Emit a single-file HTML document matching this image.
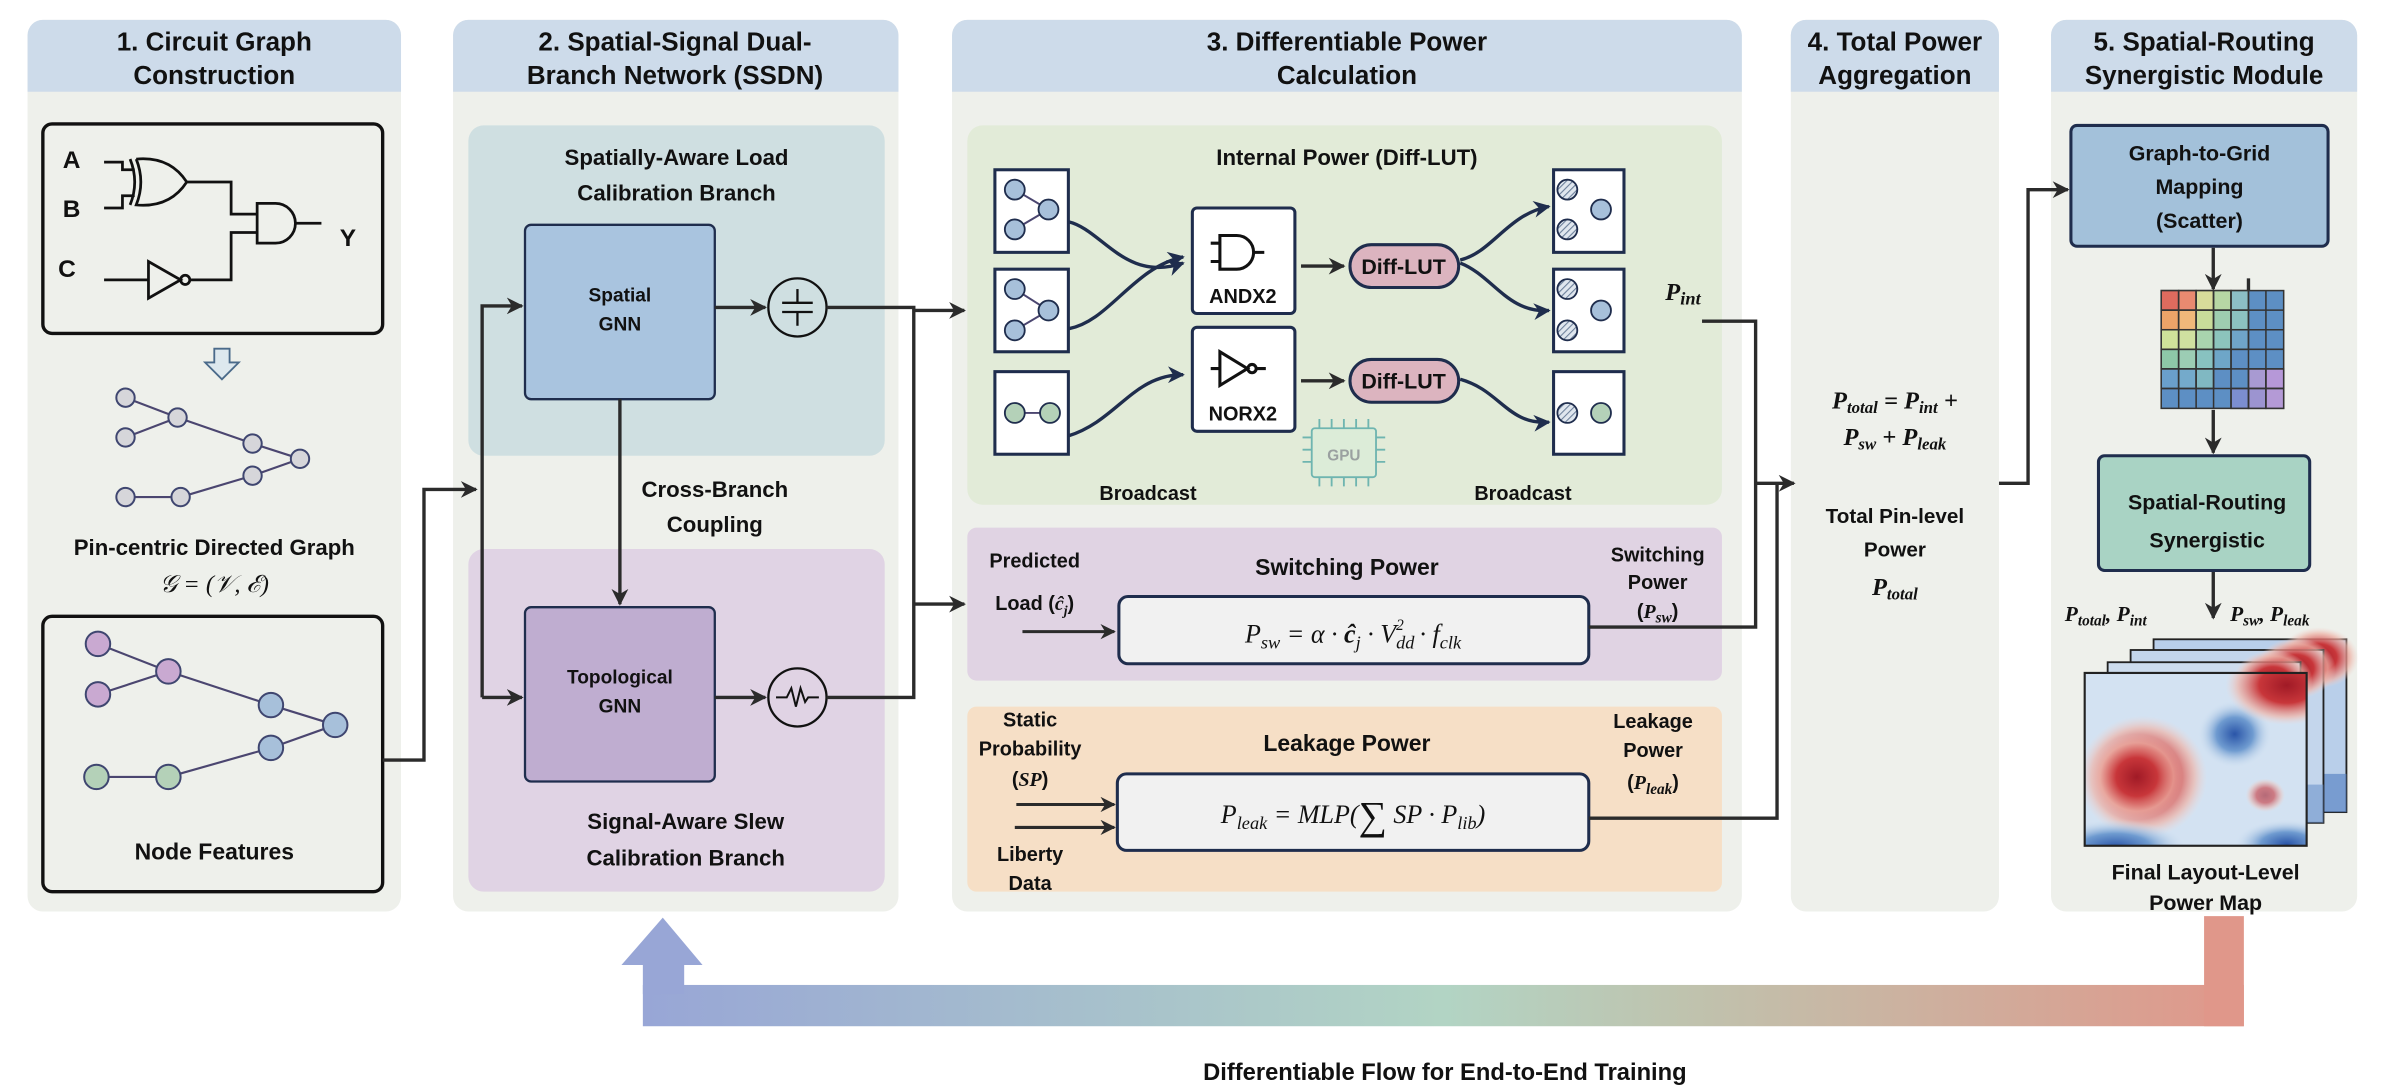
<!DOCTYPE html>
<html><head><meta charset="utf-8"><style>
html,body{margin:0;padding:0;background:#fff;}
svg{display:block;}
text{font-family:"Liberation Sans",sans-serif;font-weight:bold;fill:#111;}
.m{font-family:"Liberation Serif",serif;font-style:italic;font-weight:normal;}
.mb{font-family:"Liberation Serif",serif;font-style:italic;font-weight:bold;}
</style></head><body>
<svg width="2400" height="1092" viewBox="0 0 1568 714" preserveAspectRatio="none" xmlns="http://www.w3.org/2000/svg">
<defs>
<marker id="ar" viewBox="0 0 10 10" refX="9" refY="5" markerWidth="5" markerHeight="5" orient="auto"><path d="M0,0 L10,5 L0,10 L3,5 z" fill="#2b2b2b"/></marker>
<marker id="an" viewBox="0 0 10 10" refX="9" refY="5" markerWidth="5" markerHeight="5" orient="auto"><path d="M0,0 L10,5 L0,10 L3,5 z" fill="#1f2d4d"/></marker>
<linearGradient id="flow" x1="0" x2="1" y1="0" y2="0">
<stop offset="0" stop-color="#98a6d6"/><stop offset="0.5" stop-color="#b2d4c4"/><stop offset="0.65" stop-color="#bfc3ae"/><stop offset="1" stop-color="#e0978a"/></linearGradient>
<radialGradient id="hr" cx="0.5" cy="0.5" r="0.5"><stop offset="0" stop-color="#a01a26"/><stop offset="0.45" stop-color="#c8363a"/><stop offset="0.8" stop-color="#eeb4a8" stop-opacity="0.7"/><stop offset="1" stop-color="#f2d6d0" stop-opacity="0"/></radialGradient>
<radialGradient id="hb" cx="0.5" cy="0.5" r="0.5"><stop offset="0" stop-color="#2a55a8"/><stop offset="0.5" stop-color="#6f9bd0"/><stop offset="1" stop-color="#cfe0f0" stop-opacity="0"/></radialGradient>
<pattern id="hatch" width="3" height="3" patternUnits="userSpaceOnUse" patternTransform="rotate(45)"><rect width="3" height="3" fill="#dfe6ee"/><line x1="0" y1="0" x2="0" y2="3" stroke="#6b7f99" stroke-width="1.4"/></pattern>
</defs>

<!-- Panels -->
<g>
<rect x="18" y="13" width="244" height="583" rx="10" fill="#eef0eb"/>
<path d="M18,60 V23 a10,10 0 0 1 10,-10 H252 a10,10 0 0 1 10,10 V60 z" fill="#cddbea"/>
<rect x="296" y="13" width="291" height="583" rx="10" fill="#eef0eb"/>
<path d="M296,60 V23 a10,10 0 0 1 10,-10 H577 a10,10 0 0 1 10,10 V60 z" fill="#cddbea"/>
<rect x="622" y="13" width="516" height="583" rx="10" fill="#eef0eb"/>
<path d="M622,60 V23 a10,10 0 0 1 10,-10 H1128 a10,10 0 0 1 10,10 V60 z" fill="#cddbea"/>
<rect x="1170" y="13" width="136" height="583" rx="10" fill="#eef0eb"/>
<path d="M1170,60 V23 a10,10 0 0 1 10,-10 H1296 a10,10 0 0 1 10,10 V60 z" fill="#cddbea"/>
<rect x="1340" y="13" width="200" height="583" rx="10" fill="#eef0eb"/>
<path d="M1340,60 V23 a10,10 0 0 1 10,-10 H1530 a10,10 0 0 1 10,10 V60 z" fill="#cddbea"/>
</g>
<g font-size="17" text-anchor="middle">
<text x="140" y="33">1. Circuit Graph</text><text x="140" y="55">Construction</text>
<text x="441" y="33">2. Spatial-Signal Dual-</text><text x="441" y="55">Branch Network (SSDN)</text>
<text x="880" y="33">3. Differentiable Power</text><text x="880" y="55">Calculation</text>
<text x="1238" y="33">4. Total Power</text><text x="1238" y="55">Aggregation</text>
<text x="1440" y="33">5. Spatial-Routing</text><text x="1440" y="55">Synergistic Module</text>
</g>

<!-- Panel 1 -->
<rect x="28" y="81" width="222" height="137" rx="6" fill="#eef0eb" stroke="#111" stroke-width="2.2"/>
<g font-size="16"><text x="41" y="110">A</text><text x="41" y="142">B</text><text x="38" y="181">C</text></g>
<g stroke="#111" stroke-width="1.8" fill="none">
<path d="M68,106 H80 V111 H88"/><path d="M68,136 H80 V128 H88"/>
<path d="M85,104 q6,15 0,30"/><path d="M89,104 q6,15 0,30 q22,2 33,-15 q-11,-17 -33,-15"/>
<path d="M122,119 H151 V140 H168"/>
<path d="M168,133 V159 H180 a13,13 0 0 0 0,-26 z"/><path d="M193,146 H210"/>
<path d="M68,183 H97"/><path d="M97,171 V195 L118,183 z"/><circle cx="121" cy="183" r="3"/>
<path d="M124,183 H151 V152 H168"/>
</g>
<text x="222" y="161" font-size="16">Y</text>
<path d="M140,228 h10 v9 h6 l-11,11 l-11,-11 h6 z" fill="#dde8ee" stroke="#4a6a8a" stroke-width="1.2"/>
<g stroke="#4b4670" stroke-width="1.4"><line x1="82" y1="260" x2="116" y2="273"/><line x1="82" y1="286" x2="116" y2="273"/><line x1="116" y1="273" x2="165" y2="290"/><line x1="165" y1="290" x2="196" y2="300"/><line x1="165" y1="311" x2="196" y2="300"/><line x1="82" y1="325" x2="118" y2="325"/><line x1="118" y1="325" x2="165" y2="311"/></g>
<g fill="#d6d6da" stroke="#3f4670" stroke-width="1.3"><circle cx="82" cy="260" r="6"/><circle cx="82" cy="286" r="6"/><circle cx="116" cy="273" r="6"/><circle cx="165" cy="290" r="6"/><circle cx="196" cy="300" r="6"/><circle cx="165" cy="311" r="6"/><circle cx="82" cy="325" r="6"/><circle cx="118" cy="325" r="6"/></g>
<text x="140" y="363" font-size="14.5" text-anchor="middle">Pin-centric Directed Graph</text>
<text x="140" y="387" font-size="16" text-anchor="middle" class="m">𝒢 = (𝒱, ℰ)</text>
<rect x="28" y="403" width="222" height="180" rx="6" fill="#eef0eb" stroke="#111" stroke-width="2.2"/>
<g stroke="#4b4670" stroke-width="1.4"><line x1="64" y1="421" x2="110" y2="439"/><line x1="64" y1="454" x2="110" y2="439"/><line x1="110" y1="439" x2="177" y2="461"/><line x1="177" y1="461" x2="219" y2="474"/><line x1="177" y1="489" x2="219" y2="474"/><line x1="63" y1="508" x2="110" y2="508"/><line x1="110" y1="508" x2="177" y2="489"/></g>
<g stroke="#3f4670" stroke-width="1.3"><circle cx="64" cy="421" r="8" fill="#c9a9d1"/><circle cx="64" cy="454" r="8" fill="#c9a9d1"/><circle cx="110" cy="439" r="8" fill="#c9a9d1"/><circle cx="177" cy="461" r="8" fill="#a7c0da"/><circle cx="219" cy="474" r="8" fill="#a7c0da"/><circle cx="177" cy="489" r="8" fill="#a7c0da"/><circle cx="63" cy="508" r="8" fill="#b4d1b8"/><circle cx="110" cy="508" r="8" fill="#b4d1b8"/></g>
<text x="140" y="562" font-size="15" text-anchor="middle">Node Features</text>

<!-- Panel 2 -->
<rect x="306" y="82" width="272" height="216" rx="10" fill="#cfdfe1"/>
<rect x="306" y="359" width="272" height="224" rx="10" fill="#e0d3e4"/>
<g font-size="14.5" text-anchor="middle"><text x="442" y="108">Spatially-Aware Load</text><text x="442" y="131">Calibration Branch</text>
<text x="448" y="542">Signal-Aware Slew</text><text x="448" y="566">Calibration Branch</text>
<text x="467" y="325">Cross-Branch</text><text x="467" y="348">Coupling</text></g>
<rect x="343" y="147" width="124" height="114" rx="4" fill="#a9c4df" stroke="#1f2d4d" stroke-width="1.5"/>
<rect x="343" y="397" width="124" height="114" rx="4" fill="#bfadd0" stroke="#1f2d4d" stroke-width="1.5"/>
<g font-size="12.5" text-anchor="middle"><text x="405" y="197">Spatial</text><text x="405" y="216">GNN</text><text x="405" y="447">Topological</text><text x="405" y="466">GNN</text></g>
<circle cx="521" cy="201" r="19" fill="none" stroke="#111" stroke-width="1.5"/>
<g stroke="#111" stroke-width="1.5"><line x1="511" y1="198" x2="531" y2="198"/><line x1="511" y1="204" x2="531" y2="204"/><line x1="521" y1="189" x2="521" y2="198"/><line x1="521" y1="204" x2="521" y2="213"/></g>
<circle cx="521" cy="456" r="19" fill="none" stroke="#111" stroke-width="1.5"/>
<path d="M507,456 h7 l3,-6 l3,12 l3,-12 l3,9 l2,-3 h7" fill="none" stroke="#111" stroke-width="1.3"/>
<g stroke="#2b2b2b" stroke-width="2.2" fill="none">
<path d="M250,497 H277 V320 H311" marker-end="url(#ar)"/>
<path d="M315,456 V200 H341" marker-end="url(#ar)"/>
<path d="M315,456 H341" marker-end="url(#ar)"/>
<path d="M405,261 V395" marker-end="url(#ar)"/>
<path d="M467,201 H500" marker-end="url(#ar)"/>
<path d="M467,456 H500" marker-end="url(#ar)"/>
<path d="M540,201 H597 V456 H540"/>
<path d="M597,203 H630" marker-end="url(#ar)"/>
<path d="M597,395 H630" marker-end="url(#ar)"/>
</g>

<!-- Panel 3: internal -->
<rect x="632" y="82" width="493" height="248" rx="10" fill="#e2ebd8"/>
<text x="880" y="108" font-size="14.5" text-anchor="middle">Internal Power (Diff-LUT)</text>
<rect x="650" y="111" width="48" height="54" fill="#fff" stroke="#1f2d4d" stroke-width="2"/>
<rect x="650" y="176" width="48" height="54" fill="#fff" stroke="#1f2d4d" stroke-width="2"/>
<rect x="650" y="243" width="48" height="54" fill="#fff" stroke="#1f2d4d" stroke-width="2"/>
<g stroke="#4b4670" stroke-width="1.3">
<line x1="663" y1="124" x2="685" y2="137"/><line x1="663" y1="150" x2="685" y2="137"/>
<line x1="663" y1="189" x2="685" y2="203"/><line x1="663" y1="216" x2="685" y2="203"/>
<line x1="663" y1="270" x2="686" y2="270"/>
<line x1="1024" y1="124" x2="1046" y2="137"/><line x1="1024" y1="150" x2="1046" y2="137"/>
<line x1="1024" y1="189" x2="1046" y2="203"/><line x1="1024" y1="216" x2="1046" y2="203"/>
<line x1="1024" y1="270" x2="1046" y2="270"/>
</g>
<g stroke="#1f2d4d" stroke-width="1.2">
<circle cx="663" cy="124" r="6.5" fill="#a7c0da"/><circle cx="663" cy="150" r="6.5" fill="#a7c0da"/><circle cx="685" cy="137" r="6.5" fill="#a7c0da"/>
<circle cx="663" cy="189" r="6.5" fill="#a7c0da"/><circle cx="663" cy="216" r="6.5" fill="#a7c0da"/><circle cx="685" cy="203" r="6.5" fill="#a7c0da"/>
<circle cx="663" cy="270" r="6.5" fill="#b4d1b8"/><circle cx="686" cy="270" r="6.5" fill="#b4d1b8"/>
</g>
<rect x="1015" y="111" width="46" height="54" fill="#fff" stroke="#1f2d4d" stroke-width="2"/>
<rect x="1015" y="176" width="46" height="54" fill="#fff" stroke="#1f2d4d" stroke-width="2"/>
<rect x="1015" y="243" width="46" height="54" fill="#fff" stroke="#1f2d4d" stroke-width="2"/>
<g stroke="#1f2d4d" stroke-width="1.2">
<circle cx="1024" cy="124" r="6.5" fill="url(#hatch)"/><circle cx="1024" cy="150" r="6.5" fill="url(#hatch)"/><circle cx="1046" cy="137" r="6.5" fill="#a7c0da"/>
<circle cx="1024" cy="189" r="6.5" fill="url(#hatch)"/><circle cx="1024" cy="216" r="6.5" fill="url(#hatch)"/><circle cx="1046" cy="203" r="6.5" fill="#a7c0da"/>
<circle cx="1024" cy="270" r="6.5" fill="url(#hatch)"/><circle cx="1046" cy="270" r="6.5" fill="#b4d1b8"/>
</g>
<rect x="779" y="136" width="67" height="69" rx="3" fill="#fff" stroke="#1f2d4d" stroke-width="2"/>
<rect x="779" y="214" width="67" height="68" rx="3" fill="#fff" stroke="#1f2d4d" stroke-width="2"/>
<g stroke="#111" stroke-width="2" fill="none">
<path d="M797,154 V176 H808 a11,11 0 0 0 0,-22 z"/><path d="M791,159 h6 M791,171 h6 M819,165 h7"/>
<path d="M797,230 V252 L815,241 z"/><circle cx="818" cy="241" r="2.7"/><path d="M791,241 h6 M821,241 h6"/>
</g>
<g font-size="13" text-anchor="middle"><text x="812" y="198">ANDX2</text><text x="812" y="275">NORX2</text></g>
<g stroke="#1f2d4d" stroke-width="2.2" fill="none">
<path d="M698,145 C720,150 735,185 773,172" marker-end="url(#an)"/>
<path d="M698,215 C725,210 740,175 773,168" marker-end="url(#an)"/>
<path d="M698,285 C730,275 740,245 773,245" marker-end="url(#an)"/>
<path d="M954,170 C975,165 985,140 1012,135" marker-end="url(#an)"/>
<path d="M954,172 C975,180 985,205 1012,203" marker-end="url(#an)"/>
<path d="M954,248 C980,255 985,278 1012,276" marker-end="url(#an)"/>
</g>
<g stroke="#2b2b2b" stroke-width="2.2"><path d="M850,174 H878" marker-end="url(#ar)"/><path d="M850,249 H878" marker-end="url(#ar)"/></g>
<rect x="882" y="160" width="71" height="28" rx="14" fill="#dcb4bf" stroke="#1f2d4d" stroke-width="2"/>
<rect x="882" y="235" width="71" height="28" rx="14" fill="#dcb4bf" stroke="#1f2d4d" stroke-width="2"/>
<g font-size="14" text-anchor="middle"><text x="917" y="179">Diff-LUT</text><text x="917" y="254">Diff-LUT</text></g>
<g stroke="#6fb5b0" stroke-width="1.2" fill="#dcecd8"><rect x="857" y="280" width="42" height="32" rx="2"/><path d="M862,280 v-6 M870,280 v-6 M878,280 v-6 M886,280 v-6 M894,280 v-6 M862,312 v6 M870,312 v6 M878,312 v6 M886,312 v6 M894,312 v6 M857,286 h-6 M857,294 h-6 M857,302 h-6 M899,286 h6 M899,294 h6 M899,302 h6" fill="none"/></g>
<text x="878" y="301" font-size="10" text-anchor="middle" style="fill:#9aa0a0">GPU</text>
<g font-size="13" text-anchor="middle"><text x="750" y="327">Broadcast</text><text x="995" y="327">Broadcast</text></g>
<text x="1088" y="196" font-size="16" class="mb">P<tspan font-size="12" dy="3">int</tspan></text>

<!-- switching -->
<rect x="632" y="345" width="493" height="100" rx="6" fill="#e0d3e3"/>
<text x="880" y="376" font-size="15" text-anchor="middle">Switching Power</text>
<g font-size="13" text-anchor="middle"><text x="676" y="371">Predicted</text><text x="676" y="399">Load (<tspan class="mb">ĉ<tspan font-size="9" dy="3">j</tspan></tspan><tspan dy="-3">)</tspan></text>
<text x="1083" y="367">Switching</text><text x="1083" y="385">Power</text><text x="1083" y="404">(<tspan class="mb">P<tspan font-size="10" dy="3">sw</tspan></tspan><tspan dy="-3">)</tspan></text></g>
<rect x="731" y="390" width="307" height="44" rx="6" fill="#f1f1f1" stroke="#1f2d4d" stroke-width="2"/>
<text x="884" y="420" font-size="17" text-anchor="middle" class="m">P<tspan font-size="12" dy="4">sw</tspan><tspan dy="-4"> =  α · </tspan><tspan font-weight="bold">ĉ</tspan><tspan font-size="12" dy="4">j</tspan><tspan dy="-4"> · V</tspan><tspan font-size="12" dy="4">dd</tspan><tspan font-size="10" dx="-12" dy="-12">2</tspan><tspan dx="6" dy="8"> · f</tspan><tspan font-size="12" dy="4">clk</tspan></text>
<path d="M668,413 H728" stroke="#2b2b2b" stroke-width="2" marker-end="url(#ar)"/>

<!-- leakage -->
<rect x="632" y="462" width="493" height="121" rx="6" fill="#f6dfc6"/>
<text x="880" y="491" font-size="15" text-anchor="middle">Leakage Power</text>
<g font-size="13" text-anchor="middle"><text x="673" y="475">Static</text><text x="673" y="494">Probability</text><text x="673" y="514">(<tspan class="mb">SP</tspan>)</text><text x="673" y="563">Liberty</text><text x="673" y="582">Data</text>
<text x="1080" y="476">Leakage</text><text x="1080" y="495">Power</text><text x="1080" y="516">(<tspan class="mb">P<tspan font-size="10" dy="3">leak</tspan></tspan><tspan dy="-3">)</tspan></text></g>
<rect x="730" y="506" width="308" height="50" rx="6" fill="#f1f1f1" stroke="#1f2d4d" stroke-width="2"/>
<text x="884" y="538" font-size="17" text-anchor="middle" class="m">P<tspan font-size="12" dy="4">leak</tspan><tspan dy="-4"> = MLP(</tspan><tspan font-size="26" dy="4" font-style="normal">∑</tspan><tspan dy="-4"> SP · P</tspan><tspan font-size="12" dy="4">lib</tspan><tspan dy="-4">)</tspan></text>
<g stroke="#2b2b2b" stroke-width="2"><path d="M664,526 H728" marker-end="url(#ar)"/><path d="M663,541 H728" marker-end="url(#ar)"/></g>

<!-- connectors to 4 -->
<g stroke="#2b2b2b" stroke-width="2.2" fill="none">
<path d="M1112,210 H1147 V410 H1038"/>
<path d="M1038,535 H1161 V316"/>
<path d="M1147,316 H1172" marker-end="url(#ar)"/>
<path d="M1306,316 H1325 V124 H1351" marker-end="url(#ar)"/>
</g>

<!-- panel 4 -->
<text x="1238" y="267" font-size="16" text-anchor="middle" class="mb">P<tspan font-size="11" dy="3">total</tspan><tspan dy="-3"> = P</tspan><tspan font-size="11" dy="3">int</tspan><tspan dy="-3"> +</tspan></text>
<text x="1238" y="291" font-size="16" text-anchor="middle" class="mb">P<tspan font-size="11" dy="3">sw</tspan><tspan dy="-3"> + P</tspan><tspan font-size="11" dy="3">leak</tspan></text>
<g font-size="13.5" text-anchor="middle"><text x="1238" y="342">Total Pin-level</text><text x="1238" y="364">Power</text></g>
<text x="1238" y="389" font-size="16" text-anchor="middle" class="mb">P<tspan font-size="11" dy="3">total</tspan></text>

<!-- panel 5 -->
<rect x="1353" y="82" width="168" height="79" rx="4" fill="#a3c1da" stroke="#1f2d4d" stroke-width="2"/>
<g font-size="14" text-anchor="middle"><text x="1437" y="105">Graph-to-Grid</text><text x="1437" y="127">Mapping</text><text x="1437" y="149">(Scatter)</text></g>
<g stroke="#2b2b2b" stroke-width="2.2"><path d="M1446,162 V189" marker-end="url(#ar)"/><path d="M1469,182 V212" marker-end="url(#ar)"/><path d="M1446,268 V296" marker-end="url(#ar)"/><path d="M1446,374 V404" marker-end="url(#ar)"/></g>
<g stroke="#333" stroke-width="1">
<rect x="1412" y="190" width="80" height="77" fill="#5d8fc4"/>
<rect x="1412" y="190" width="11.4" height="12.8" fill="#de6b5e"/><rect x="1423.4" y="190" width="11.4" height="12.8" fill="#e98a70"/><rect x="1434.8" y="190" width="11.4" height="12.8" fill="#d8dc9a"/><rect x="1446.2" y="190" width="11.4" height="12.8" fill="#b7d7a4"/><rect x="1457.6" y="190" width="11.4" height="12.8" fill="#8cbfc6"/>
<rect x="1412" y="202.8" width="11.4" height="12.8" fill="#eda468"/><rect x="1423.4" y="202.8" width="11.4" height="12.8" fill="#f0b87a"/><rect x="1434.8" y="202.8" width="11.4" height="12.8" fill="#c9dc9a"/><rect x="1446.2" y="202.8" width="11.4" height="12.8" fill="#9ecdb0"/><rect x="1457.6" y="202.8" width="11.4" height="12.8" fill="#8cc2c0"/>
<rect x="1412" y="215.6" width="11.4" height="12.8" fill="#cfe29a"/><rect x="1423.4" y="215.6" width="11.4" height="12.8" fill="#cfe0a0"/><rect x="1434.8" y="215.6" width="11.4" height="12.8" fill="#a9d4ae"/><rect x="1446.2" y="215.6" width="11.4" height="12.8" fill="#8cc4bc"/><rect x="1457.6" y="215.6" width="11.4" height="12.8" fill="#6fa4c8"/>
<rect x="1412" y="228.4" width="11.4" height="12.8" fill="#8ec8a8"/><rect x="1423.4" y="228.4" width="11.4" height="12.8" fill="#9ccdb4"/><rect x="1434.8" y="228.4" width="11.4" height="12.8" fill="#88c2c0"/><rect x="1446.2" y="228.4" width="11.4" height="12.8" fill="#6ea6c8"/>
<rect x="1412" y="241.2" width="11.4" height="12.8" fill="#6a9fcb"/><rect x="1423.4" y="241.2" width="11.4" height="12.8" fill="#74aacb"/><rect x="1434.8" y="241.2" width="11.4" height="12.8" fill="#80b8c2"/><rect x="1469" y="241.2" width="11.4" height="12.8" fill="#a89ad2"/><rect x="1480.4" y="241.2" width="11.6" height="12.8" fill="#b698d8"/>
<rect x="1469" y="254" width="11.4" height="13" fill="#9c94d0"/><rect x="1480.4" y="254" width="11.6" height="13" fill="#b49ad6"/><rect x="1457.6" y="254" width="11.4" height="13" fill="#7c8ed0"/>
<path d="M1423.4,190 V267 M1434.8,190 V267 M1446.2,190 V267 M1457.6,190 V267 M1469,190 V267 M1480.4,190 V267 M1412,202.8 H1492 M1412,215.6 H1492 M1412,228.4 H1492 M1412,241.2 H1492 M1412,254 H1492" fill="none"/>
</g>
<rect x="1371" y="298" width="138" height="75" rx="4" fill="#a9d3c4" stroke="#1f2d4d" stroke-width="2"/>
<g font-size="14" text-anchor="middle"><text x="1442" y="333">Spatial-Routing</text><text x="1442" y="358">Synergistic</text></g>
<text x="1349" y="406" font-size="14" class="mb">P<tspan font-size="10" dy="3">total</tspan><tspan dy="-3">, P</tspan><tspan font-size="10" dy="3">int</tspan></text>
<text x="1457" y="406" font-size="14" class="mb">P<tspan font-size="10" dy="3">sw</tspan><tspan dy="-3">, P</tspan><tspan font-size="10" dy="3">leak</tspan></text>
<g>
<g transform="translate(45,-22)"><rect x="1362" y="440" width="126" height="113" fill="#b9cfea" stroke="#222" stroke-width="1.2"/><ellipse cx="1470" cy="452" rx="26" ry="20" fill="url(#hr)"/><rect x="1362" y="528" width="126" height="25" fill="#5d86c4" opacity="0.7"/></g>
<g transform="translate(30,-15)"><rect x="1362" y="440" width="126" height="113" fill="#c4d6ec" stroke="#222" stroke-width="1.2"/><ellipse cx="1470" cy="452" rx="26" ry="20" fill="url(#hr)"/><rect x="1362" y="528" width="126" height="25" fill="#6d93cc" opacity="0.6"/></g>
<g transform="translate(15,-7)"><rect x="1362" y="440" width="126" height="113" fill="#cddcee" stroke="#222" stroke-width="1.2"/><ellipse cx="1470" cy="452" rx="26" ry="20" fill="url(#hr)"/></g>
<svg x="1362" y="440" width="145" height="113" viewBox="0 0 145 113">
<rect width="145" height="113" fill="#d3e2f2"/>
<ellipse cx="38" cy="68" rx="42" ry="40" fill="url(#hr)"/>
<ellipse cx="34" cy="68" rx="30" ry="28" fill="url(#hr)"/>
<ellipse cx="98" cy="40" rx="24" ry="22" fill="url(#hb)"/>
<ellipse cx="132" cy="8" rx="40" ry="26" fill="url(#hr)"/>
<ellipse cx="118" cy="80" rx="13" ry="11" fill="url(#hr)" opacity="0.6"/>
<ellipse cx="20" cy="114" rx="46" ry="18" fill="url(#hb)"/>
<ellipse cx="132" cy="112" rx="34" ry="16" fill="url(#hb)"/>
</svg>
<rect x="1362" y="440" width="145" height="113" fill="none" stroke="#222" stroke-width="1.4"/>
</g>
<g font-size="14" text-anchor="middle"><text x="1441" y="575">Final Layout-Level</text><text x="1441" y="595">Power Map</text></g>

<!-- bottom flow arrow -->
<rect x="420" y="644" width="1046" height="27" fill="url(#flow)"/>
<rect x="1440" y="599" width="26" height="72" fill="#e0978a"/>
<rect x="420" y="630" width="27" height="20" fill="#98a6d6"/>
<path d="M433,600 L459,631 L406,631 z" fill="#98a6d6"/>
<text x="944" y="706" font-size="15.5" text-anchor="middle">Differentiable Flow for End-to-End Training</text>
</svg>
</body></html>
